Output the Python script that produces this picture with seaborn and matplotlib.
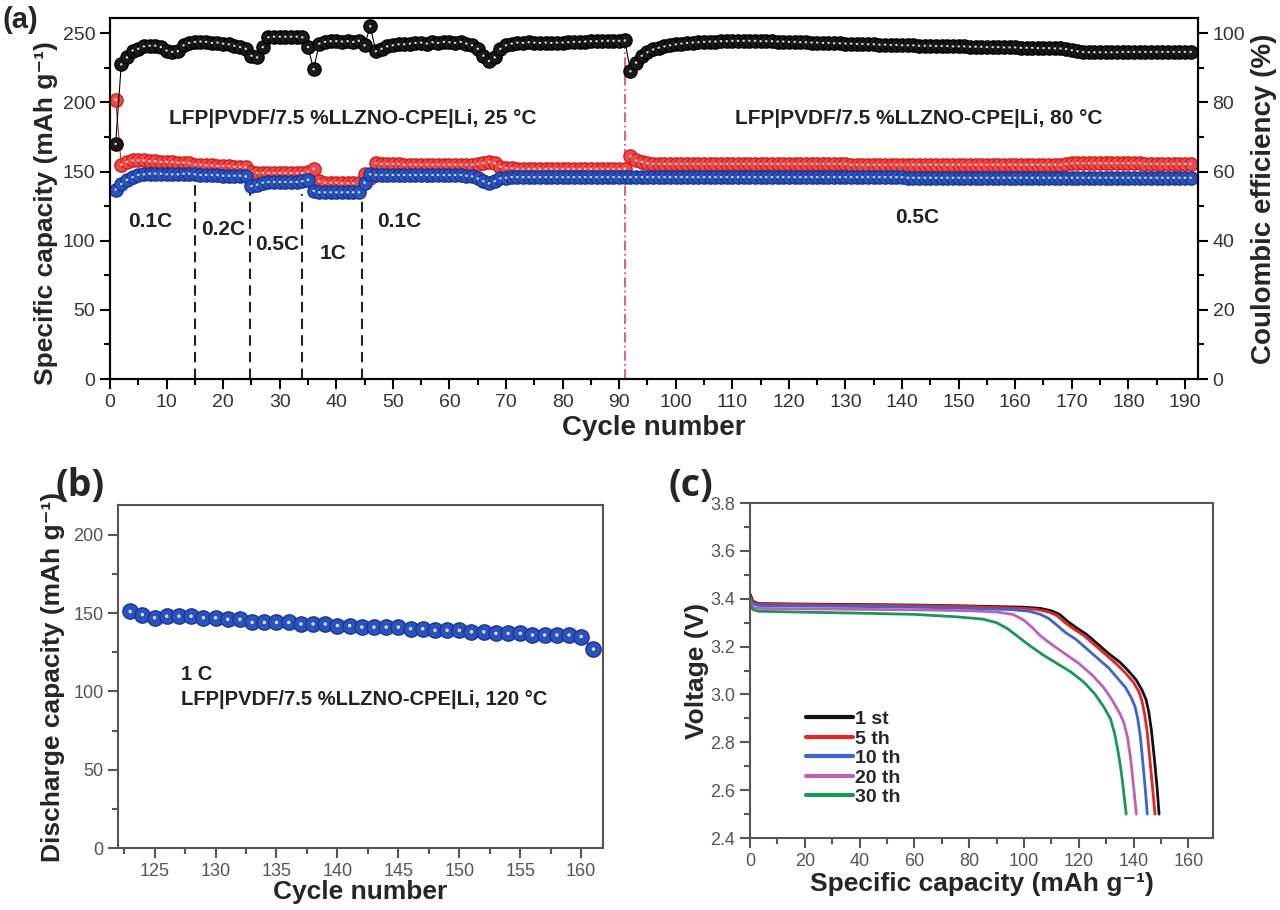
import numpy as np
import pandas as pd
import matplotlib
matplotlib.use("Agg")
import matplotlib.pyplot as plt
import seaborn as sns
from matplotlib.ticker import MultipleLocator, FormatStrFormatter

sns.set_style("ticks")
plt.rcParams['font.family'] = ['Liberation Sans', 'DejaVu Sans']

# ---------------- Panel (a) data ----------------
cycles_a = list(range(1, 192))
charge_a = [
    202, 155, 157, 158, 158, 158, 157.5, 157.5, 157, 157,
    157, 156.5, 156.5, 156, 155, 155, 154.5, 154.5, 154, 154,
    154, 153.5, 153.5, 153, 150, 149, 149, 149, 149, 149,
    149, 149, 149, 149, 150, 152, 143, 142, 142, 142,
    141.5, 141.5, 141.5, 142, 148, 145, 156, 155.5, 155.5, 155.5,
    155.5, 155, 155, 155, 155, 155, 155, 155, 155, 155,
    155, 155, 155, 155, 155.5, 156, 157, 156, 153.5, 152.5,
    152.5, 152, 152, 152, 152, 152, 152, 152, 152, 152,
    152, 152, 152, 152, 152, 152, 152, 152, 152, 152,
    152, 161, 158, 157, 156, 155.5, 155.5, 155.5, 155.5, 155.5,
    155.5, 155.5, 155.5, 155.5, 155.5, 155.5, 155.5, 155.5, 155.5, 155.5,
    155.5, 155.5, 155.5, 155.5, 155.5, 155.5, 155.5, 155.5, 155.5, 155.5,
    155.5, 155.5, 155.5, 155.5, 155.5, 155.5, 155.5, 155.5, 155.5, 155.5,
    155, 155, 155, 155, 155, 155, 155, 155, 155, 155,
    155, 155, 155, 155, 155, 155, 155, 155, 155, 155,
    155, 155, 155, 155, 155, 155, 155, 155, 155, 155,
    155, 155, 155, 155, 155, 155, 155, 155, 155.5, 156,
    156, 156, 156, 156, 156, 156, 156, 156, 156, 156,
    156, 156, 155.5, 155.5, 155.5, 155.5, 155.5, 155.5, 155.5, 155.5,
    155.5,
]
discharge_a = [
    137, 141, 144, 146, 147.5, 148, 148.5, 148.5, 148.5, 148,
    148, 148, 148.5, 148.5, 148, 147.5, 147.5, 147.5, 147.5, 147,
    147, 147, 147, 146.5, 139.5, 140.5, 142, 142.5, 142.5, 142.5,
    142.5, 142.5, 142.5, 143, 144, 136, 135, 135, 135, 135,
    135, 135, 135, 135, 142, 148, 147.5, 147.5, 147.5, 147.5,
    147.5, 147.5, 147.5, 147.5, 147.5, 147.5, 147.5, 147.5, 147.5, 147.5,
    147.5, 147.5, 147, 146.5, 145, 143, 141.5, 143, 145, 145.5,
    146, 146, 146, 146, 146, 146, 146, 146, 146, 146,
    146, 146, 146, 146, 146, 146, 146, 146, 146, 146,
    146, 146, 146, 146, 146, 146, 146, 146, 146, 146,
    146, 146, 146, 146, 146, 146, 146, 146, 146, 146,
    146, 146, 146, 146, 146, 146, 146, 146, 146, 146,
    146, 146, 146, 146, 146, 146, 146, 146, 146, 146,
    146, 146, 146, 146, 146, 146, 146, 146, 146, 146,
    145.5, 145.5, 145.5, 145.5, 145.5, 145.5, 145.5, 145.5, 145.5, 145.5,
    145.5, 145.5, 145.5, 145.5, 145.5, 145.5, 145.5, 145.5, 145.5, 145.5,
    145.5, 145.5, 145.5, 145.5, 145.5, 145.5, 145.5, 145.5, 145.5, 145.5,
    145.5, 145.5, 145.5, 145.5, 145.5, 145.5, 145.5, 145.5, 145.5, 145.5,
    145.5, 145.5, 145.5, 145.5, 145.5, 145.5, 145.5, 145.5, 145.5, 145.5,
    145.5,
]
ce_a = [
    68.0, 91.0, 93.0, 95.0, 95.5, 96.2, 96.4, 96.4, 96.0, 95.0,
    94.6, 94.8, 96.5, 97.2, 97.5, 97.6, 97.5, 97.2, 97.3, 97.0,
    96.8, 96.4, 96.0, 95.5, 93.5, 93.0, 96.0, 98.8, 99.0, 99.0,
    99.0, 99.0, 99.0, 98.8, 96.0, 89.6, 97.0, 97.5, 97.7, 97.7,
    97.6, 97.7, 97.5, 97.8, 96.5, 102.0, 94.8, 95.5, 96.2, 96.5,
    96.8, 96.8, 97.0, 97.2, 97.3, 97.0, 97.4, 97.2, 97.5, 97.4,
    97.2, 97.5, 97.0, 96.5, 95.5, 93.5, 92.0, 93.0, 95.5, 96.5,
    97.0, 97.3, 97.2, 97.4, 97.3, 97.2, 97.3, 97.2, 97.3, 97.3,
    97.4, 97.5, 97.5, 97.6, 97.7, 97.7, 97.8, 97.8, 97.8, 97.8,
    97.9, 89.0, 91.5, 93.5, 94.5, 95.3, 95.8, 96.2, 96.5, 96.8,
    97.0, 97.2, 97.3, 97.4, 97.5, 97.6, 97.6, 97.7, 97.7, 97.8,
    97.8, 97.8, 97.8, 97.8, 97.7, 97.7, 97.7, 97.6, 97.6, 97.5,
    97.5, 97.4, 97.4, 97.3, 97.3, 97.2, 97.2, 97.1, 97.1, 97.0,
    97.0, 96.9, 96.9, 96.8, 96.8, 96.7, 96.7, 96.6, 96.6, 96.5,
    96.5, 96.5, 96.4, 96.4, 96.4, 96.3, 96.3, 96.3, 96.2, 96.2,
    96.2, 96.1, 96.1, 96.1, 96.0, 96.0, 96.0, 95.9, 95.9, 95.9,
    95.8, 95.8, 95.8, 95.7, 95.7, 95.7, 95.6, 95.6, 95.4, 95.1,
    94.8, 94.6, 94.5, 94.5, 94.5, 94.5, 94.5, 94.5, 94.6, 94.6,
    94.6, 94.6, 94.6, 94.6, 94.6, 94.6, 94.6, 94.6, 94.6, 94.6,
    94.6,
]
rate_labels = ["0.1C", "0.2C", "0.5C", "1C", "0.1C", "0.5C"]
rate_boundaries = [15, 24.7, 34, 44.6]

# ---------------- Panel (b) data ----------------
cycles_b = list(range(123, 162))
discharge_b = [151, 149, 147, 148, 148, 148, 147, 147, 146, 146,
               144, 144, 144, 144, 143, 143, 143, 142, 142, 141,
               141, 141, 141, 140, 140, 139, 139, 139, 138, 138,
               137, 137, 137, 136, 136, 136, 136, 135, 127]

# ---------------- Panel (c) data ----------------
curve_labels = ["1 st", "5 th", "10 th", "20 th", "30 th"]
cap_1 = [0, 1, 3, 20, 40, 60, 80, 100, 106, 110, 113, 116, 119, 123, 127, 131, 135, 138, 141, 143, 144.5, 145.5, 146.5, 147.5, 148.5, 149.3]
volt_1 = [3.42, 3.39, 3.38, 3.378, 3.376, 3.374, 3.37, 3.365, 3.36, 3.35, 3.335, 3.305, 3.28, 3.25, 3.21, 3.17, 3.135, 3.10, 3.06, 3.02, 2.98, 2.93, 2.85, 2.74, 2.62, 2.50]
cap_5 = [0, 1, 3, 20, 40, 60, 80, 100, 105, 109, 112, 115, 118, 122, 126, 130, 134, 137, 140, 142, 143, 144, 145, 146, 147, 147.8]
volt_5 = [3.41, 3.385, 3.378, 3.376, 3.374, 3.372, 3.368, 3.36, 3.355, 3.345, 3.33, 3.30, 3.275, 3.245, 3.205, 3.165, 3.125, 3.09, 3.05, 3.01, 2.975, 2.92, 2.84, 2.72, 2.60, 2.50]
cap_10 = [0, 1, 3, 20, 40, 60, 80, 95, 102, 106, 109, 112, 115, 119, 123, 127, 131, 134, 137, 139, 140.5, 141.5, 142.5, 143.5, 144.3, 145]
volt_10 = [3.40, 3.38, 3.372, 3.37, 3.368, 3.365, 3.36, 3.355, 3.348, 3.335, 3.318, 3.29, 3.26, 3.23, 3.19, 3.15, 3.11, 3.07, 3.03, 2.99, 2.95, 2.90, 2.82, 2.70, 2.60, 2.50]
cap_20 = [0, 1, 3, 20, 40, 60, 80, 90, 96, 100, 103, 106, 110, 115, 120, 125, 129, 132, 135, 136.5, 137.8, 138.8, 139.6, 140.3, 141]
volt_20 = [3.39, 3.365, 3.36, 3.358, 3.356, 3.354, 3.35, 3.345, 3.335, 3.31, 3.28, 3.245, 3.21, 3.17, 3.13, 3.08, 3.03, 2.98, 2.92, 2.88, 2.82, 2.74, 2.66, 2.58, 2.50]
cap_30 = [0, 1, 3, 20, 40, 60, 75, 85, 90, 94, 98, 102, 107, 112, 117, 122, 126, 129, 131.5, 133, 134.2, 135.2, 136, 136.7, 137.3]
volt_30 = [3.38, 3.355, 3.348, 3.344, 3.34, 3.335, 3.325, 3.315, 3.30, 3.275, 3.24, 3.205, 3.165, 3.13, 3.095, 3.05, 3.0, 2.95, 2.9, 2.84, 2.77, 2.70, 2.63, 2.56, 2.50]
curve_colors = ["#111111", "#e32626", "#3a66d0", "#c060b4", "#1a9656"]

# ---------------- figure ----------------
fig = plt.figure(figsize=(12.8, 9.1), dpi=100)
BOLD = dict(fontweight='bold')


def balls(ax, x, y, face, edge, ms, hl, z):
    sns.lineplot(x=x, y=y, ax=ax, color=edge, lw=0.8, marker='o', markersize=ms,
                 markerfacecolor=face, markeredgecolor=edge, markeredgewidth=1.0,
                 sort=False, estimator=None, legend=False, zorder=z)
    sns.scatterplot(x=x, y=y, ax=ax, s=hl, color='white', edgecolor='none',
                    alpha=0.85, legend=False, zorder=z + 0.1)


def style_axes(ax, spine_col, lw, tcol, lsize):
    for s in ax.spines.values():
        s.set_color(spine_col)
        s.set_linewidth(lw)
    ax.tick_params(which='major', direction='out', length=7, width=lw, color=spine_col,
                   labelsize=lsize, labelcolor=tcol)
    ax.tick_params(which='minor', direction='out', length=4, width=lw, color=spine_col)


# ---- (a) ----
ax = fig.add_axes([0.0859, 0.5835, 0.850, 0.3967])
ax2 = ax.twinx()
balls(ax, cycles_a, charge_a, '#ee4a4a', '#d41c1c', 9.5, 3, 2)
balls(ax, cycles_a, discharge_a, '#2b53bd', '#1a3596', 9.5, 3, 3)
balls(ax2, cycles_a, ce_a, '#1a1a1a', '#000000', 9.5, 3, 3)
for xb, top in zip(rate_boundaries, [142, 140, 134, 130]):
    ax.vlines(xb, 0, top, colors='#222222', linestyles=(0, (5, 3)), lw=1.5, zorder=1)
ax.vlines(91, 0, 245, colors='#e0407a', linestyles=(0, (6, 2, 1, 2)), lw=1.2, zorder=1)

ax.set_xlim(0, 192.3)
ax.set_ylim(0, 261)
ax2.set_ylim(0, 104.4)
ax.xaxis.set_major_locator(MultipleLocator(10))
ax.xaxis.set_minor_locator(MultipleLocator(5))
ax.yaxis.set_major_locator(MultipleLocator(50))
ax.yaxis.set_minor_locator(MultipleLocator(25))
ax2.yaxis.set_major_locator(MultipleLocator(20))
ax2.yaxis.set_minor_locator(MultipleLocator(10))
style_axes(ax, 'black', 1.5, '#333333', 14)
style_axes(ax2, 'black', 1.5, '#333333', 14)
ax.set_xlabel('Cycle number', fontsize=20, labelpad=3, **BOLD)
ax.set_ylabel('Specific capacity (mAh g⁻¹)', fontsize=19, labelpad=4, **BOLD)
ax.yaxis.set_label_coords(-0.048, 0.46)
ax2.set_ylabel('Coulombic efficiency (%)', fontsize=20, labelpad=4, **BOLD)

ax.text(43, 188, 'LFP|PVDF/7.5 %LLZNO-CPE|Li, 25 °C', fontsize=15, ha='center', va='center', color='#222', **BOLD)
ax.text(143, 188, 'LFP|PVDF/7.5 %LLZNO-CPE|Li, 80 °C', fontsize=15, ha='center', va='center', color='#222', **BOLD)
for lab, (tx, ty) in zip(rate_labels, [(7.2, 114), (20.1, 108), (29.6, 97), (39.4, 91), (51.2, 114), (142.6, 116.6)]):
    ax.text(tx, ty, lab, fontsize=15, ha='center', va='center', color='#222', **BOLD)
fig.text(0.002, 0.993, '(a)', fontsize=21, va='top', ha='left', **BOLD)

# ---- (b) ----
axb = fig.add_axes([0.0922, 0.0681, 0.379, 0.377])
balls(axb, cycles_b, discharge_b, '#2b53bd', '#1a3596', 11, 6, 3)
axb.set_xlim(122, 161.8)
axb.set_ylim(0, 219)
axb.xaxis.set_major_locator(MultipleLocator(5))
axb.xaxis.set_minor_locator(MultipleLocator(2.5))
axb.yaxis.set_major_locator(MultipleLocator(50))
axb.yaxis.set_minor_locator(MultipleLocator(25))
style_axes(axb, '#555555', 1.5, '#555555', 13)
axb.set_xlabel('Cycle number', fontsize=19, labelpad=0, **BOLD)
axb.set_ylabel('Discharge capacity (mAh g⁻¹)', fontsize=19, labelpad=6, **BOLD)
axb.text(127.2, 111, '1 C', fontsize=14.5, ha='left', va='center', color='#222', **BOLD)
axb.text(127.2, 95, 'LFP|PVDF/7.5 %LLZNO-CPE|Li, 120 °C', fontsize=14.5, ha='left', va='center', color='#222', **BOLD)
fig.text(0.043, 0.487, '(b)', fontsize=27, va='top', ha='left', family=['Open Sans', 'DejaVu Sans'], **BOLD)

# ---- (c) ----
axc = fig.add_axes([0.586, 0.0791, 0.3617, 0.368])
caps = [cap_1, cap_5, cap_10, cap_20, cap_30]
volts = [volt_1, volt_5, volt_10, volt_20, volt_30]
for cx, vy, col, lab in zip(caps, volts, curve_colors, curve_labels):
    sns.lineplot(x=cx, y=vy, ax=axc, color=col, lw=2.0, sort=False, estimator=None, label=lab)
axc.set_xlim(0, 169)
axc.set_ylim(2.4, 3.8)
axc.xaxis.set_major_locator(MultipleLocator(20))
axc.xaxis.set_minor_locator(MultipleLocator(10))
axc.yaxis.set_major_locator(MultipleLocator(0.2))
axc.yaxis.set_minor_locator(MultipleLocator(0.1))
axc.yaxis.set_major_formatter(FormatStrFormatter('%.1f'))
style_axes(axc, '#555555', 1.5, '#555555', 13)
axc.set_xlabel('Specific capacity (mAh g⁻¹)', fontsize=19, labelpad=2, **BOLD)
axc.set_ylabel('Voltage (V)', fontsize=19, labelpad=1, **BOLD)
leg = axc.legend(loc='upper left', bbox_to_anchor=(0.10, 0.41), frameon=False,
                 handlelength=2.4, handletextpad=0.1, labelspacing=0.1, borderpad=0,
                 prop=dict(size=14, weight='bold'))
for h in leg.legend_handles:
    h.set_linewidth(3)
fig.text(0.522, 0.487, '(c)', fontsize=27, va='top', ha='left', family=['Open Sans', 'DejaVu Sans'], **BOLD)

fig.savefig('out.png', dpi=100)
